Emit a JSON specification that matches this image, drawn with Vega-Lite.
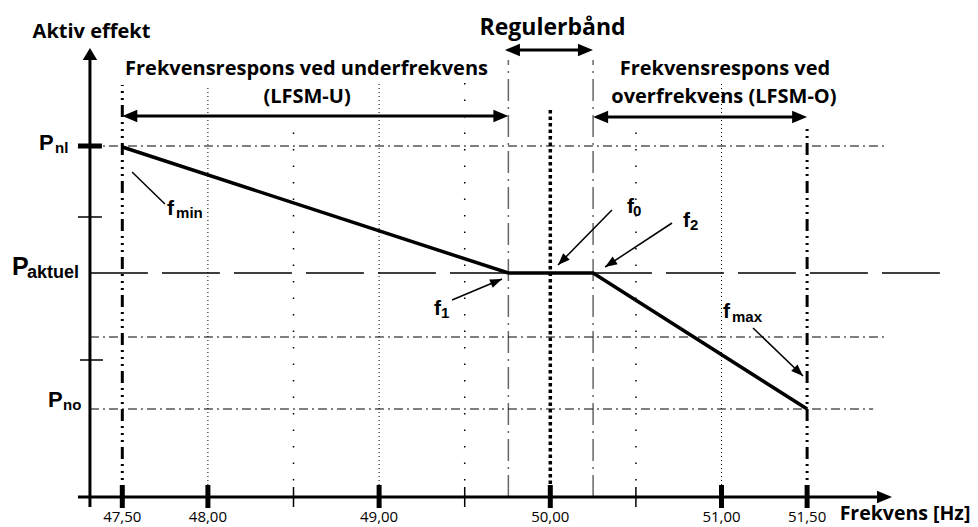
{
  "$schema": "https://vega.github.io/schema/vega-lite/v6.json",
  "width": 978,
  "height": 527,
  "autosize": {"type": "none"},
  "padding": 0,
  "background": "white",
  "config": {"view": {"stroke": null}},
  "datasets": {
    "dense": [{"x":48,"y":0,"x2":48,"y2":412},{"x":49,"y":0,"x2":49,"y2":414},{"x":51,"y":0,"x2":51,"y2":414}],
    "sparse": [{"x":48.5,"y":0,"x2":48.5,"y2":377},{"x":49.5,"y":0,"x2":49.5,"y2":414},{"x":50.5,"y":0,"x2":50.5,"y2":377}],
    "band": [{"x":49.755,"y":0,"x2":49.755,"y2":437},{"x":50.25,"y":0,"x2":50.25,"y2":437}],
    "hdd": [{"x":47.311,"y":351,"x2":51.97,"y2":351},{"x":47.311,"y":160,"x2":51.96,"y2":160},{"x":47.311,"y":88,"x2":51.886,"y2":88}],
    "akt": [{"x":47.311,"y":224,"x2":52.31,"y2":224}],
    "f50": [{"x":50,"y":0,"x2":50,"y2":390}],
    "limits": [{"x":47.5,"y":0,"x2":47.5,"y2":412},{"x":51.5,"y":0,"x2":51.5,"y2":372}],
    "axes": [{"x":47.311,"y":-10,"x2":47.311,"y2":437},{"x":47.241,"y":0,"x2":51.91,"y2":0}],
    "thickTicks": [{"x":47.5,"y":-11,"x2":47.5,"y2":12},{"x":48,"y":-11,"x2":48,"y2":12},{"x":49,"y":-11,"x2":49,"y2":12},{"x":50,"y":-11,"x2":50,"y2":12},{"x":51,"y":-11,"x2":51,"y2":12},{"x":51.5,"y":-11,"x2":51.5,"y2":12},{"x":47.241,"y":351,"x2":47.381,"y2":351}],
    "thinTicks": [{"x":48.5,"y":-10,"x2":48.5,"y2":10},{"x":49.5,"y":-10,"x2":49.5,"y2":10},{"x":50.5,"y":-10,"x2":50.5,"y2":10},{"x":47.241,"y":280,"x2":47.381,"y2":280},{"x":47.253,"y":137,"x2":47.387,"y2":137}],
    "curve": [{"x":47.5,"y":350},{"x":49.755,"y":224},{"x":50.25,"y":224},{"x":51.5,"y":88}],
    "shafts": [{"x":47.56,"y":381,"x2":49.695,"y2":381},{"x":49.795,"y":447,"x2":50.19,"y2":447},{"x":50.31,"y":380,"x2":51.44,"y2":380}],
    "headsRight": [{"x":49.755,"y":381},{"x":50.249,"y":447},{"x":51.5,"y":380},{"x":51.996,"y":0}],
    "headsLeft": [{"x":47.5,"y":381},{"x":49.735,"y":447},{"x":50.25,"y":380}],
    "headUp": [{"x":47.311,"y":449}],
    "leaders": [{"x":47.557,"y":325,"x2":47.749,"y2":293},{"x":50.36,"y":287,"x2":50.045,"y2":232},{"x":50.711,"y":274,"x2":50.32,"y2":230},{"x":49.426,"y":197,"x2":49.718,"y2":218},{"x":51.184,"y":169,"x2":51.476,"y2":121}],
    "headF0": [{"x":50.045,"y":232}],
    "headF2": [{"x":50.32,"y":230}],
    "headF1": [{"x":49.718,"y":218}],
    "headFmax": [{"x":51.476,"y":121}],
    "titles": [{"x":47.32,"y":459,"t":"Aktiv effekt"},{"x":48.576,"y":422,"t":"Frekvensrespons ved underfrekvens"},{"x":48.579,"y":394,"t":"(LFSM-U)"},{"x":51.02,"y":422,"t":"Frekvensrespons ved"},{"x":51.014,"y":394,"t":"overfrekvens (LFSM-O)"}],
    "band_title": [{"x":50.013,"y":462,"t":"Regulerbånd"}],
    "xlabels": [{"x":47.5,"y":-25,"t":"47,50"},{"x":48,"y":-25,"t":"48,00"},{"x":49,"y":-25,"t":"49,00"},{"x":50,"y":-25,"t":"50,00"},{"x":51,"y":-25,"t":"51,00"},{"x":51.5,"y":-25,"t":"51,50"}],
    "xtitle": [{"x":51.69,"y":-23,"t":"Frekvens [Hz]"}],
    "bigP": [{"x":47.013,"y":347,"t":"P"},{"x":47.066,"y":90,"t":"P"}],
    "bigPakt": [{"x":46.856,"y":222,"t":"P"}],
    "subAkt": [{"x":46.943,"y":219,"t":"aktuel"}],
    "fLetters": [{"x":47.761,"y":282,"t":"f"},{"x":50.448,"y":284,"t":"f"},{"x":50.775,"y":270,"t":"f"},{"x":49.321,"y":182,"t":"f"},{"x":51.009,"y":179,"t":"f"}],
    "subs": [{"x":47.107,"y":344,"t":"nl"},{"x":47.154,"y":87,"t":"no"},{"x":47.814,"y":279,"t":"min"},{"x":50.483,"y":281,"t":"0"},{"x":50.816,"y":267,"t":"2"},{"x":49.362,"y":179,"t":"1"},{"x":51.061,"y":175,"t":"max"}]
  },
  "encoding": {
    "x": {"field": "x", "type": "quantitative", "scale": {"domain": [46.7856, 52.4982], "nice": false, "zero": false}, "axis": null},
    "y": {"field": "y", "type": "quantitative", "scale": {"domain": [-30, 497], "nice": false, "zero": false}, "axis": null}
  },
  "layer": [
    {"data": {"name": "dense"}, "mark": {"type": "rule", "color": "black", "strokeWidth": 1, "strokeDash": [1, 3]}, "encoding": {"x2": {"field": "x2"}, "y2": {"field": "y2"}}},
    {"data": {"name": "sparse"}, "mark": {"type": "rule", "color": "black", "strokeWidth": 1.5, "strokeDash": [1.5, 15]}, "encoding": {"x2": {"field": "x2"}, "y2": {"field": "y2"}}},
    {"data": {"name": "band"}, "mark": {"type": "rule", "color": "#666666", "strokeWidth": 1.5, "strokeDash": [22, 6, 2, 6]}, "encoding": {"x2": {"field": "x2"}, "y2": {"field": "y2"}}},
    {"data": {"name": "hdd"}, "mark": {"type": "rule", "color": "black", "strokeWidth": 1.2, "strokeDash": [9, 4, 2, 4]}, "encoding": {"x2": {"field": "x2"}, "y2": {"field": "y2"}}},
    {"data": {"name": "akt"}, "mark": {"type": "rule", "color": "black", "strokeWidth": 1.3, "strokeDash": [58, 14]}, "encoding": {"x2": {"field": "x2"}, "y2": {"field": "y2"}}},
    {"data": {"name": "f50"}, "mark": {"type": "rule", "color": "black", "strokeWidth": 3.5, "strokeDash": [3.5, 3]}, "encoding": {"x2": {"field": "x2"}, "y2": {"field": "y2"}}},
    {"data": {"name": "limits"}, "mark": {"type": "rule", "color": "black", "strokeWidth": 3, "strokeDash": [12, 5, 2, 5, 2, 5, 2, 5]}, "encoding": {"x2": {"field": "x2"}, "y2": {"field": "y2"}}},
    {"data": {"name": "axes"}, "mark": {"type": "rule", "color": "black", "strokeWidth": 3}, "encoding": {"x2": {"field": "x2"}, "y2": {"field": "y2"}}},
    {"data": {"name": "thickTicks"}, "mark": {"type": "rule", "color": "black", "strokeWidth": 5}, "encoding": {"x2": {"field": "x2"}, "y2": {"field": "y2"}}},
    {"data": {"name": "thinTicks"}, "mark": {"type": "rule", "color": "black", "strokeWidth": 1.5}, "encoding": {"x2": {"field": "x2"}, "y2": {"field": "y2"}}},
    {"data": {"name": "curve"}, "mark": {"type": "line", "color": "black", "strokeWidth": 3.5}},
    {"data": {"name": "shafts"}, "mark": {"type": "rule", "color": "black", "strokeWidth": 3}, "encoding": {"x2": {"field": "x2"}, "y2": {"field": "y2"}}},
    {"data": {"name": "headsRight"}, "mark": {"type": "point", "shape": "M0,0L-1,-0.42L-1,0.42Z", "filled": true, "size": 900, "color": "black", "opacity": 1, "strokeWidth": 0}},
    {"data": {"name": "headsLeft"}, "mark": {"type": "point", "shape": "M0,0L1,-0.42L1,0.42Z", "filled": true, "size": 900, "color": "black", "opacity": 1, "strokeWidth": 0}},
    {"data": {"name": "headUp"}, "mark": {"type": "point", "shape": "M0,0L-0.6,1L0.6,1Z", "filled": true, "size": 576, "color": "black", "opacity": 1, "strokeWidth": 0}},
    {"data": {"name": "leaders"}, "mark": {"type": "rule", "color": "black", "strokeWidth": 1.5}, "encoding": {"x2": {"field": "x2"}, "y2": {"field": "y2"}}},
    {"data": {"name": "headF0"}, "mark": {"type": "point", "shape": "M0,0L-1,-0.38L-1,0.38Z", "filled": true, "size": 576, "angle": 134.5, "color": "black", "opacity": 1, "strokeWidth": 0}},
    {"data": {"name": "headF2"}, "mark": {"type": "point", "shape": "M0,0L-1,-0.38L-1,0.38Z", "filled": true, "size": 576, "angle": 146.7, "color": "black", "opacity": 1, "strokeWidth": 0}},
    {"data": {"name": "headF1"}, "mark": {"type": "point", "shape": "M0,0L-1,-0.38L-1,0.38Z", "filled": true, "size": 576, "angle": 337.2, "color": "black", "opacity": 1, "strokeWidth": 0}},
    {"data": {"name": "headFmax"}, "mark": {"type": "point", "shape": "M0,0L-1,-0.38L-1,0.38Z", "filled": true, "size": 576, "angle": 43.8, "color": "black", "opacity": 1, "strokeWidth": 0}},
    {"data": {"name": "titles"}, "mark": {"type": "text", "font": "Open Sans", "fontWeight": "bold", "fontSize": 20, "align": "center", "baseline": "alphabetic", "color": "black"}, "encoding": {"text": {"field": "t"}}},
    {"data": {"name": "band_title"}, "mark": {"type": "text", "font": "Open Sans", "fontWeight": "bold", "fontSize": 23, "align": "center", "baseline": "alphabetic", "color": "black"}, "encoding": {"text": {"field": "t"}}},
    {"data": {"name": "xlabels"}, "mark": {"type": "text", "font": "Open Sans", "fontSize": 15, "align": "center", "baseline": "alphabetic", "color": "black"}, "encoding": {"text": {"field": "t"}}},
    {"data": {"name": "xtitle"}, "mark": {"type": "text", "font": "Open Sans", "fontWeight": "bold", "fontSize": 19.5, "align": "left", "baseline": "alphabetic", "color": "black"}, "encoding": {"text": {"field": "t"}}},
    {"data": {"name": "bigP"}, "mark": {"type": "text", "font": "Liberation Sans", "fontWeight": "bold", "fontSize": 22, "align": "left", "baseline": "alphabetic", "color": "black"}, "encoding": {"text": {"field": "t"}}},
    {"data": {"name": "bigPakt"}, "mark": {"type": "text", "font": "Liberation Sans", "fontWeight": "bold", "fontSize": 25, "align": "left", "baseline": "alphabetic", "color": "black"}, "encoding": {"text": {"field": "t"}}},
    {"data": {"name": "subAkt"}, "mark": {"type": "text", "font": "Liberation Sans", "fontWeight": "bold", "fontSize": 18, "align": "left", "baseline": "alphabetic", "color": "black"}, "encoding": {"text": {"field": "t"}}},
    {"data": {"name": "fLetters"}, "mark": {"type": "text", "font": "Liberation Sans", "fontWeight": "bold", "fontSize": 21, "align": "left", "baseline": "alphabetic", "color": "black"}, "encoding": {"text": {"field": "t"}}},
    {"data": {"name": "subs"}, "mark": {"type": "text", "font": "Liberation Sans", "fontWeight": "bold", "fontSize": 15, "align": "left", "baseline": "alphabetic", "color": "black"}, "encoding": {"text": {"field": "t"}}}
  ]
}
